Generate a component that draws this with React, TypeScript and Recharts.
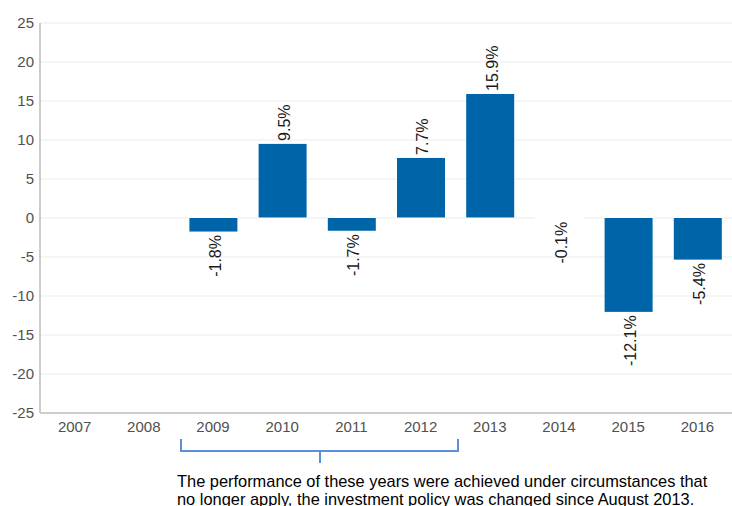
import React from 'react';
import { BarChart, Bar, XAxis, YAxis, CartesianGrid, LabelList } from 'recharts';

const YEARS = ['2007', '2008', '2009', '2010', '2011', '2012', '2013', '2014', '2015', '2016'];
const RETURNS: (number | null)[] = [null, null, -1.8, 9.5, -1.7, 7.7, 15.9, -0.1, -12.1, -5.4];
const Y_TICKS = [-25, -20, -15, -10, -5, 0, 5, 10, 15, 20, 25];
const NOTE_LINES = [
  'The performance of these years were achieved under circumstances that',
  'no longer apply, the investment policy was changed since August 2013.',
];

const data = YEARS.map((year, i) => ({ year, value: RETURNS[i] }));

const FONT = '"Liberation Sans", Arial, sans-serif';

// bar with a white border, so a near-zero bar cuts the zero grid line
function BorderedBar(props: any) {
  const { x, y, width, height, fill } = props;
  if (x == null || width == null) return null;
  const top = Math.min(y, y + height);
  const h = Math.abs(height);
  return (
    <g>
      <rect x={x - 0.5} y={top - 1} width={width + 1} height={h + 2} fill="#fff" />
      {h > 1 && <rect x={x} y={top} width={width} height={h - 0.5} fill={fill} />}
    </g>
  );
}

function ValueLabel(props: any) {
  const { x, y, width, height, value } = props;
  if (value == null) return null;
  const cx = x + width / 2 + 2;
  const top = Math.min(y, y + height);
  const bottom = Math.max(y, y + height);
  const pos = value >= 0;
  const ay = pos ? top - 3 : bottom + 3;
  return (
    <text
      x={cx}
      y={ay}
      transform={`rotate(-90 ${cx} ${ay})`}
      textAnchor={pos ? 'start' : 'end'}
      dominantBaseline="central"
      fontSize={16}
      fontFamily={FONT}
      fill="#1a1a1a"
    >
      {value.toFixed(1) + '%'}
    </text>
  );
}

export default function App() {
  return (
    <div style={{ position: 'absolute', left: 0, top: 0, width: 732, height: 506, overflow: 'hidden', background: '#fff' }}>
      <BarChart
        width={732}
        height={506}
        data={data}
        margin={{ top: 23, right: 0, bottom: 63, left: 0 }}
      >
        <CartesianGrid vertical={false} stroke="#ebebeb" />
        <XAxis
          dataKey="year"
          height={30}
          tickLine={false}
          tickSize={0}
          tickMargin={8}
          axisLine={{ stroke: '#cccccc', strokeWidth: 2 }}
          tick={{ fill: '#505050', fontSize: 15, fontFamily: FONT }}
        />
        <YAxis
          width={40}
          domain={[-25, 25]}
          ticks={Y_TICKS}
          interval={0}
          tickLine={false}
          tickSize={0}
          tickMargin={6}
          axisLine={{ stroke: '#cccccc', strokeWidth: 2 }}
          tick={{ fill: '#505050', fontSize: 15, fontFamily: FONT }}
        />
        <Bar dataKey="value" fill="#0065a8" barSize={48} shape={BorderedBar} isAnimationActive={false}>
          <LabelList dataKey="value" content={ValueLabel} />
        </Bar>
      </BarChart>
      <svg style={{ position: 'absolute', left: 0, top: 0 }} width={732} height={506}>
        <path d="M181 439 V451 H458 V439 M320 451 V463" fill="none" stroke="#5b8fd8" strokeWidth={2} />
      </svg>
      <div
        style={{
          position: 'absolute',
          left: 177,
          top: 472,
          fontFamily: FONT,
          fontSize: 16.4,
          lineHeight: '18px',
          color: '#000',
          whiteSpace: 'nowrap',
        }}
      >
        {NOTE_LINES.map((l) => (
          <div key={l}>{l}</div>
        ))}
      </div>
    </div>
  );
}
